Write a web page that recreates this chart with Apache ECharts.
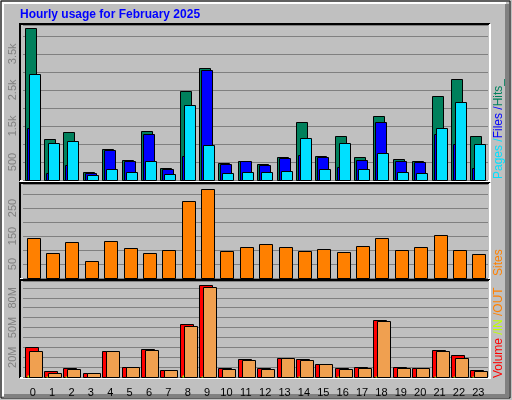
<!DOCTYPE html>
<html><head><meta charset="utf-8">
<script src="https://cdn.jsdelivr.net/npm/echarts@6/dist/echarts.min.js"></script>
<style>html,body{margin:0;padding:0;background:#c0c0c0}#c{width:512px;height:400px}</style>
</head><body><div id="c"></div>
<script>
const hours = ['0','1','2','3','4','5','6','7','8','9','10','11','12','13','14','15','16','17','18','19','20','21','22','23'];
const hits  = [4213,1130,1324,213,852,546,1352,324,2463,3102,463,519,435,630,1602,657,1213,630,1768,574,519,2324,2796,1213];
const files = [1435,185,407,185,824,519,1268,296,657,3046,435,519,407,602,685,630,352,546,1602,519,491,1268,991,324];
const pages = [2936,1019,1074,130,296,213,519,157,2074,963,185,213,213,241,1157,296,1019,296,741,213,185,1435,2157,991];
const sites = [143,89,129,61,132,107,89,100,275,318,96,111,121,111,96,104,93,114,143,100,111,154,100,86];
const volume = [30,6.5,9.2,4.4,26,10.3,28.3,7.4,53.4,92.5,9.5,17.8,9.5,18.8,17.8,12.7,9.5,10.3,57.5,10.3,9.5,27.2,21.8,7.4];
const volIn  = [2,1,1.2,0.3,0.5,0.5,0.5,0.5,2,1.5,0.5,0.5,0.5,0.5,1,0.5,1,0.5,1,0.5,0.5,1.2,1,1];
const volOut = [26,4.4,8.5,4.4,26,10.3,27.2,7.4,51.3,91.2,8.5,16.7,8.5,18.8,16.7,12.7,8.5,9.5,56.4,9.5,9.5,25.8,18.8,6.4];

const F = 'Liberation Sans';
const chart = echarts.init(document.getElementById('c'));
const L = 23, W = 465;
const grids = [{left:L,width:W,top:25,height:155},{left:L,width:W,top:184,height:94},{left:L,width:W,top:281,height:96}];
function bars(gi, data, off, w, color, z){
  return {type:'custom', xAxisIndex:gi, yAxisIndex:gi, z:z, data:data.map((v,i)=>[i,v]),
    renderItem:(p,api)=>{const a=api.coord([api.value(0),api.value(1)]), b=api.coord([api.value(0),0]);
      return {type:'rect', shape:{x:Math.round(a[0]+off)+0.5,y:Math.round(a[1])+0.5,width:w,height:Math.round(b[1]-a[1])},
        style:{fill:color,stroke:w>3?'#000':null,lineWidth:1}};}};
}
const ylab = (vals,fmt)=>({show:true,rotate:90,color:'#808080',fontFamily:F,fontSize:11,margin:5,
  formatter:v=>vals.includes(v)?fmt(v):''});
const yax = (gi,max,intv,vals,fmt)=>({type:'value',gridIndex:gi,min:0,max:max,interval:intv,
  axisLine:{show:false},axisTick:{show:false},splitLine:{show:true,lineStyle:{color:'#808080',width:1}},
  axisLabel:ylab(vals,fmt)});
const xax = (gi,show)=>({type:'category',gridIndex:gi,data:hours,axisLine:{show:false},axisTick:{show:false},
  splitLine:{show:false},axisLabel:{show:show,color:'#000',fontFamily:F,fontSize:11,margin:10}});
function panel(y,h){return [
  {type:'rect',shape:{x:20,y:y,width:470,height:h},style:{fill:'#c0c0c0',stroke:null},z:-10},
  {type:'polyline',shape:{points:[[20,y+h],[20,y],[490,y]]},style:{stroke:'#000',lineWidth:2,fill:null},z:-9},
  {type:'polyline',shape:{points:[[20,y+h],[490,y+h],[490,y]]},style:{stroke:'#fff',lineWidth:2,fill:null},z:-9}];}
const rf = c=>({fill:c,fontFamily:F,fontSize:12});
chart.setOption({
  backgroundColor:'#c0c0c0', animation:false,
  grid:grids,
  xAxis:[xax(0,false),xax(1,false),xax(2,true)],
  yAxis:[yax(0,4300,500,[500,1500,2500,3500],v=>v==500?'500':(v/1000)+'k'),
         yax(1,336,50,[50,150,250],v=>String(v)),
         yax(2,97,10,[20,50,80],v=>v+'M')],
  series:[
    bars(0,hits,-8,11,'#00805c',3), bars(0,files,-6,11,'#0000ff',4), bars(0,pages,-4,11,'#00e0ff',5),
    bars(1,sites,-6,13,'#ff8000',3),
    bars(2,volume,-8,13,'#ff0000',3), bars(2,volOut,-4,13,'#f0a050',5), bars(2,volIn,-6,2,'#c0ff00',4)
  ],
  graphic:[
    {type:'rect',shape:{x:1,y:1,width:509,height:397},style:{fill:null,stroke:'#000',lineWidth:1},z:-20},
    {type:'polyline',shape:{points:[[3,396],[3,3],[506,3]]},style:{stroke:'#fff',lineWidth:2,fill:null},z:-19},
    {type:'polyline',shape:{points:[[4,396],[507,396],[507,4]]},style:{stroke:'#808080',lineWidth:4,fill:null},z:-19},
    ...panel(24,157),...panel(183,96),...panel(280,98),
    {type:'text',x:20,y:15,style:{text:'Hourly usage for February 2025',font:'bold 12px "Liberation Sans"',fill:'#0000ff',verticalAlign:'middle'}},
    {type:'text',x:499,y:179,rotation:Math.PI/2,style:{text:'{a|Pages /}{b|Files /}{c|Hits_}',align:'left',verticalAlign:'middle',
      rich:{a:rf('#00e0ff'),b:rf('#0000ff'),c:rf('#00805c')}}},
    {type:'text',x:499,y:276,rotation:Math.PI/2,style:{text:'Sites',fill:'#ff8000',font:'12px "Liberation Sans"',align:'left',verticalAlign:'middle'}},
    {type:'text',x:499,y:378,rotation:Math.PI/2,style:{text:'{r|Volume }{y|/IN }{o|/OUT}',align:'left',verticalAlign:'middle',
      rich:{r:rf('#ff0000'),y:rf('#c0ff00'),o:rf('#ff8000')}}}
  ]
});
</script></body></html>
